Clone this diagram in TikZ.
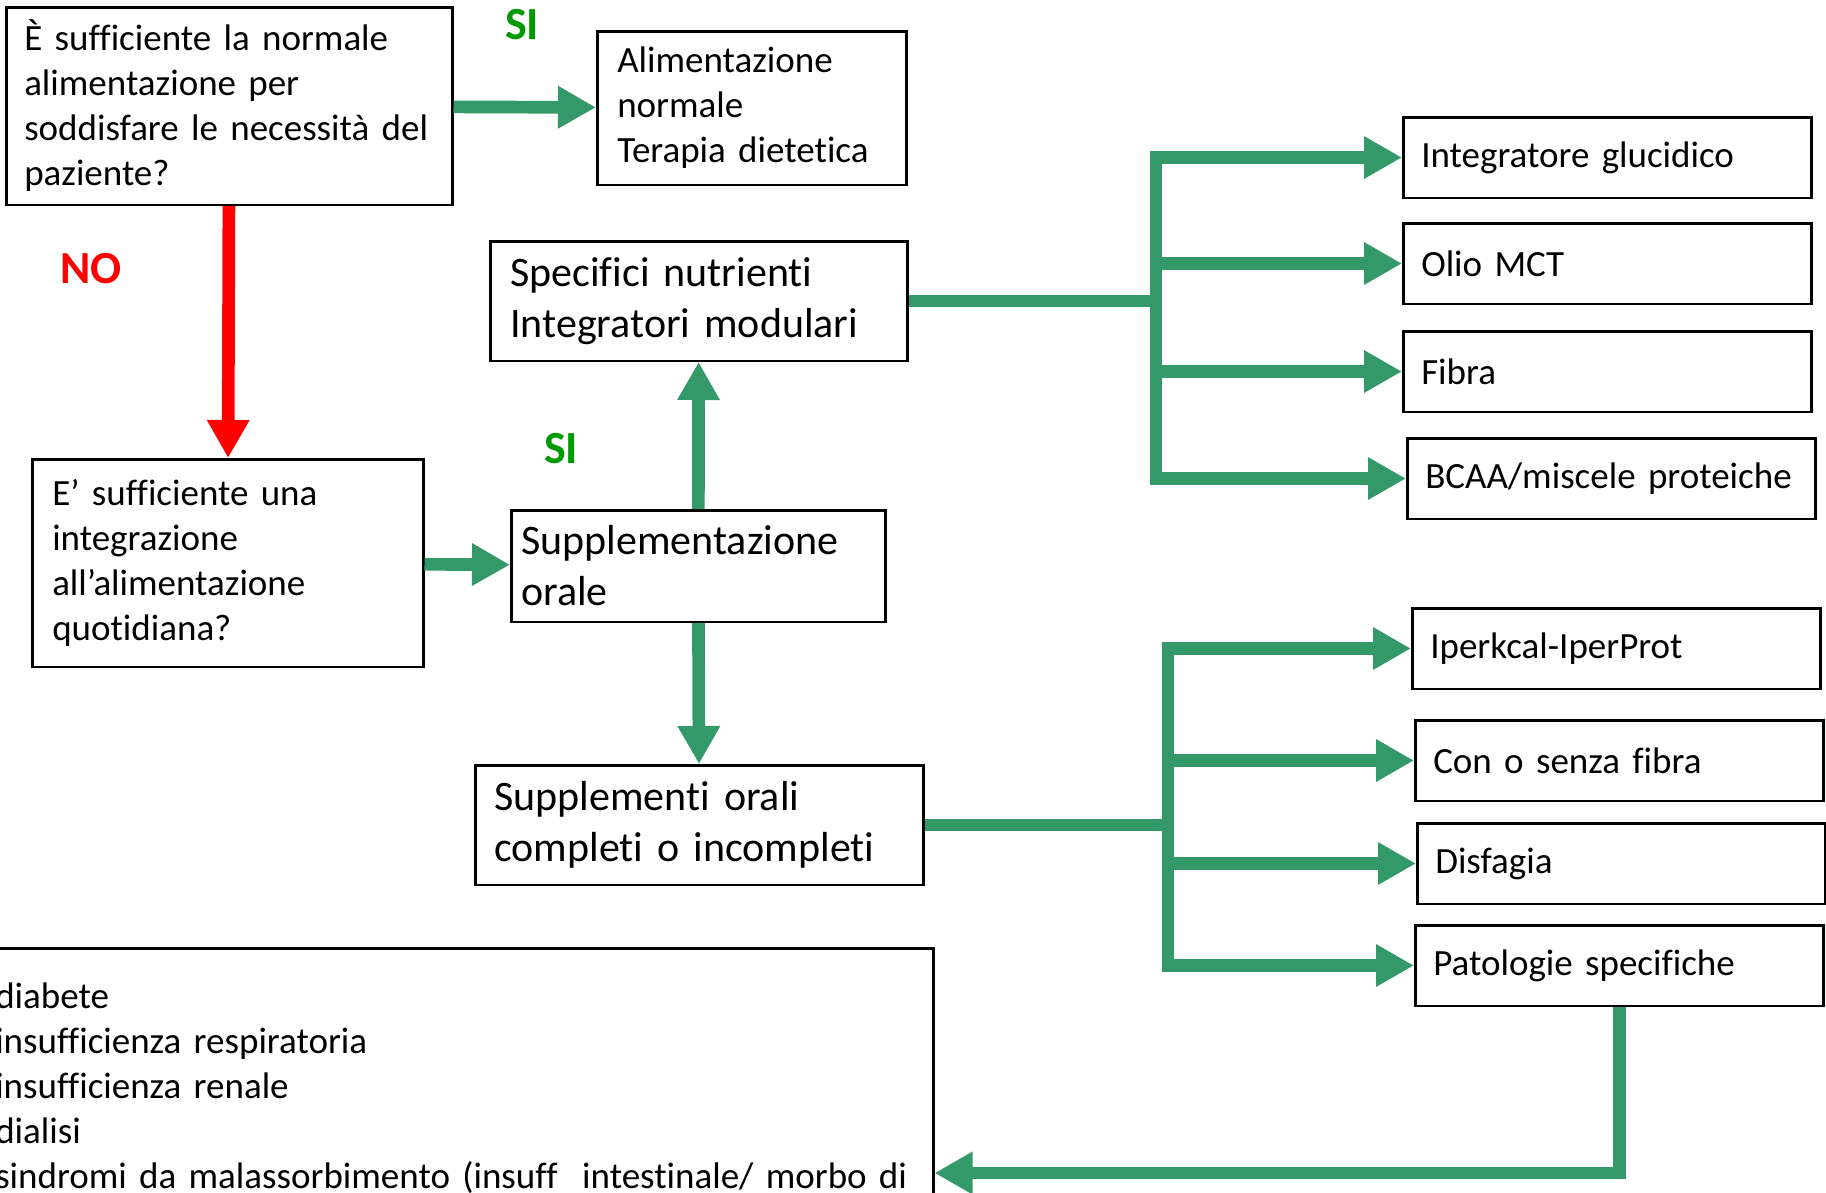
\documentclass[tikz,border=0pt]{standalone}
\usepackage{fontspec}
\setmainfont{Carlito}[Ligatures=NoCommon]
\usetikzlibrary{arrows.meta,positioning}
\definecolor{arrgreen}{RGB}{52,153,104}
\definecolor{sigreen}{RGB}{0,153,0}
\newcommand{\boxfont}{\fontsize{37}{45}\selectfont\spaceskip=0.226em\relax}
\newcommand{\bigfont}{\fontsize{42}{51}\selectfont\spaceskip=0.226em\relax}
\tikzset{fork/.style={to path={-- (\tikztostart -| #1) |- (\tikztotarget)}}}

\begin{document}
\begin{tikzpicture}[x=1pt, y=-1pt]
		\tikzstyle{box}=[rectangle, draw=black, line width=2.5pt, anchor=north west, align=left, inner xsep=20pt, inner ysep=0pt, font=\boxfont]
		\tikzstyle{big}=[font=\bigfont]
		\tikzstyle{choice}=[box, text width=372pt, inner xsep=18pt, minimum height=80.5pt]
		\tikzstyle{arr}=[draw=arrgreen, line width=12.7pt, -{Triangle[length=38pt,width=40pt]}]
		\tikzstyle{answer}=[font=\fontsize{46}{50}\selectfont\bfseries]
		\useasboundingbox (0,0) rectangle (1826,1192);
		
		\node[box, inner xsep=18pt, text width=410pt, minimum height=197.5pt] (q1) at (5,6) {È sufficiente la normale\\alimentazione per\\soddisfare le necessità del\\paziente?};
		\node[box, text width=269pt, minimum height=153.5pt] (alim) at (596,30) {Alimentazione\\normale\\Terapia dietetica};
		\node[box, big, text width=377pt, minimum height=119.5pt] (spec) at (489,240) {Specifici nutrienti\\Integratori modulari};
		\node[box, text width=351pt, minimum height=207.5pt] (q2) at (31,458) {E’ sufficiente una\\integrazione\\all’alimentazione\\quotidiana?};
		\node[box, big, inner xsep=10pt, text width=354pt, minimum height=111.5pt] (suppl) at (510,509) {Supplementazione\\orale};
		\node[box, big, inner xsep=19pt, text width=410pt, minimum height=119.5pt] (compl) at (474,764) {Supplementi orali\\completi o incompleti};
		\node[box, text width=918pt, inner ysep=35pt] (notes) at (-26,947) {diabete\\insufficienza respiratoria\\insufficienza renale\\dialisi\\sindromi da malassorbimento (insuff\ \ intestinale/ morbo di};
		
		\node[choice] (gluc) at (1402,116) {Integratore glucidico};
		\node[choice] (mct) [below=23pt of gluc] {Olio MCT};
		\node[choice] (fibra) [below=25pt of mct] {Fibra};
		\node[choice] (bcaa) [below=24pt of fibra, xshift=4pt] {BCAA/miscele proteiche};
		
		\node[choice] (iper) at (1411,607) {Iperkcal-IperProt};
		\node[choice] (fibre) [below=29pt of iper, xshift=3pt] {Con o senza fibra};
		\node[choice] (disf) [below=20pt of fibre, xshift=2pt] {Disfagia};
		\node[choice] (pato) [below=19pt of disf, xshift=-2pt] {Patologie specifiche};
		
		\node[answer, text=sigreen] (si1) at (522,25) {SI};
		\node[answer, text=red] (no) at (91,269) {NO};
		\node[answer, text=sigreen] (si2) at (561,449) {SI};
		
		\coordinate (bus1) at (1156,0);
		\coordinate (bus2) at (1168,0);
		\coordinate (turn) at (0,1173);
		
		\path 
		(q1) edge [arr] (alim)
		(q1) edge [arr, draw=red] (q2)
		(q2) edge [arr] (suppl)
		(suppl) edge [arr] (spec)
		(suppl) edge [arr] (compl)
		
		(spec.east) edge [arr, fork=bus1] (gluc.west)
		(spec.east) edge [arr, fork=bus1] (mct.west)
		(spec.east) edge [arr, fork=bus1] (fibra.west)
		(spec.east) edge [arr, fork=bus1] (bcaa.west)
		
		(compl.east) edge [arr, fork=bus2] (iper.west)
		(compl.east) edge [arr, fork=bus2] (fibre.west)
		(compl.east) edge [arr, fork=bus2] (disf.west)
		(compl.east) edge [arr, fork=bus2] (pato.west)
		
		(pato.south) edge [arr, to path={|- (\tikztotarget)}] (notes.east |- turn)
		;
		
\end{tikzpicture}
\end{document}
